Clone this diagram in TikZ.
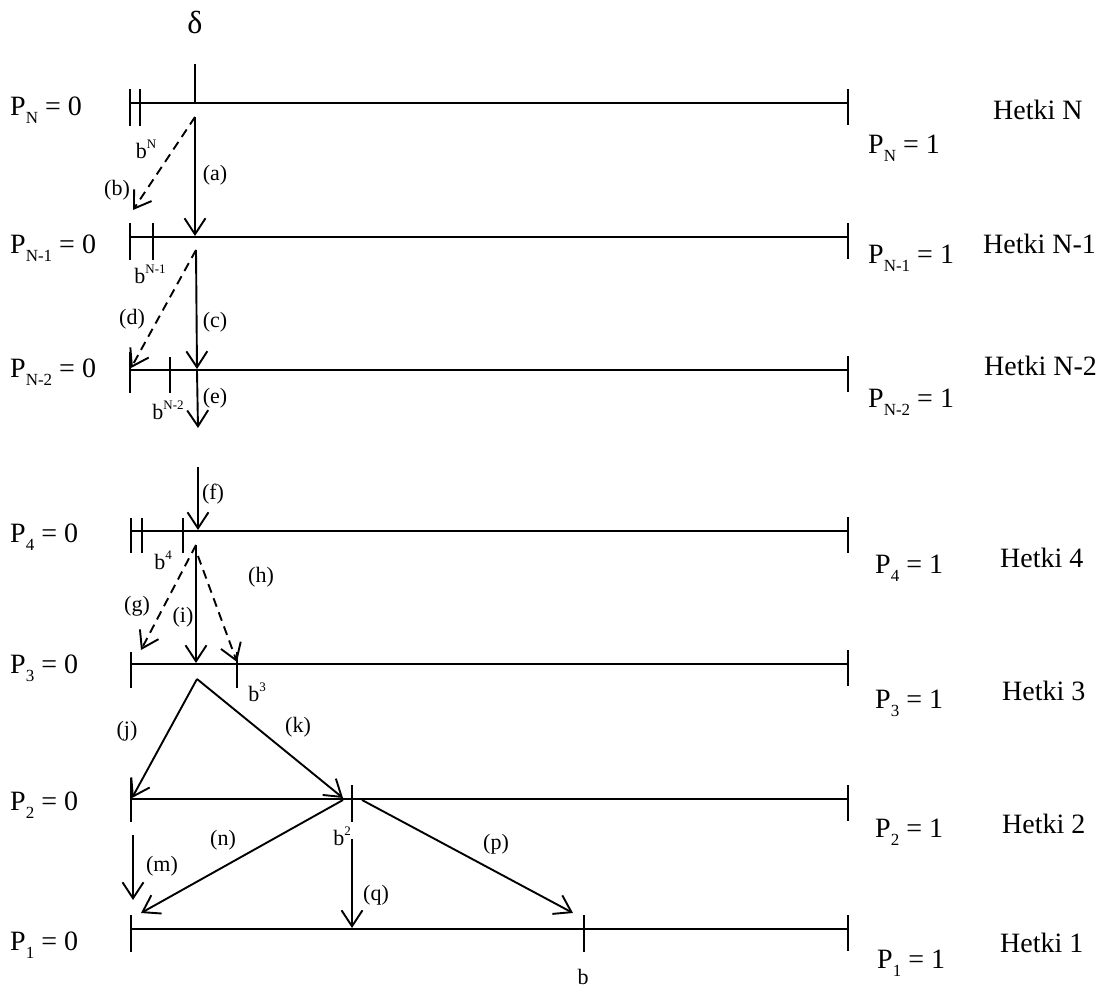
\documentclass[tikz,border=0pt]{standalone}
\usepackage{fontspec}
\setmainfont{Liberation Serif}
\usetikzlibrary{arrows.meta}
\newcommand\psub[1]{\raisebox{-0.3em}{\fontsize{17}{17}\selectfont #1}}
\newcommand\bsup[1]{\raisebox{0.45em}{\fontsize{13}{13}\selectfont #1}}
\begin{document}
\begin{tikzpicture}[x=1pt,y=-1pt,
  axisline/.style={line width=1.9pt},
  tickmark/.style={line width=1.9pt},
  arr/.style={line width=1.9pt,-{Straight Barb[length=16pt,width=21pt]}},
  darr/.style={arr,dash pattern=on 9pt off 6pt},
  big/.style={font=\fontsize{28}{32}\selectfont,inner sep=0pt},
  lbl/.style={font=\fontsize{22}{25}\selectfont,inner sep=0pt}]
\useasboundingbox (0,0) rectangle (1103,990);

% level lines and right-end ticks
\foreach \y/\n in {103/N,237/Na,370/Nb,531/F,664/T,799/S,929/O} {
  \coordinate (l\n) at (130,\y);
  \coordinate (r\n) at (848,\y);
  \draw[axisline] (l\n) -- (r\n);
  \draw[tickmark] (848,\y-14) -- (848,\y+22);
}

% left ticks
\draw[tickmark] (130,89) -- (130,126);
\draw[tickmark] (140,89) -- (140,126);
\draw[tickmark] (195,64) -- (195,103);
\draw[tickmark] (130,223) -- (130,260);
\draw[tickmark] (153,223) -- (153,260);
\draw[tickmark] (130,352) -- (130,393);
\draw[tickmark] (170,357) -- (170,393);
\draw[tickmark] (131,518) -- (131,553);
\draw[tickmark] (142,518) -- (142,553);
\draw[tickmark] (183,518) -- (183,553);
\draw[tickmark] (131,652) -- (131,688);
\draw[tickmark] (237,652) -- (237,688);
\draw[tickmark] (131,778) -- (131,822);
\draw[tickmark] (352,785) -- (352,822);
\draw[tickmark] (131,915) -- (131,952);
\draw[tickmark] (584,915) -- (584,952);

% connector end points
\coordinate (sN) at (195,117);
\coordinate (tA) at (195,236);
\coordinate (tB) at (133,210);
\coordinate (sNa) at (196,250);
\coordinate (tC) at (197,369);
\coordinate (tD) at (131,368);
\coordinate (sNb) at (197,371);
\coordinate (tE) at (198,428);
\coordinate (sF) at (198,467);
\coordinate (tF) at (198,530);
\coordinate (s4) at (196,545);
\coordinate (s4h) at (198,556);
\coordinate (tG) at (141,650);
\coordinate (tI) at (196,663);
\coordinate (tH) at (237,662);
\coordinate (s3) at (197,679);
\coordinate (tJ) at (132,798);
\coordinate (tK) at (343,798);
\coordinate (s2) at (343,800);
\coordinate (s2p) at (362,800);
\coordinate (sM) at (133,835);
\coordinate (tM) at (133,900);
\coordinate (tN) at (141,913);
\coordinate (sQ) at (352,839);
\coordinate (tQ) at (352,928);
\coordinate (tP) at (573,913);

\draw[arr] (sN) -- (tA);
\draw[darr] (sN) -- (tB);
\draw[arr] (sNa) -- (tC);
\draw[darr] (sNa) -- (tD);
\draw[arr] (sNb) -- (tE);
\draw[arr] (sF) -- (tF);
\draw[arr] (s4) -- (tI);
\draw[darr] (s4) -- (tG);
\draw[darr] (s4h) -- (tH);
\draw[arr] (s3) -- (tJ);
\draw[arr] (s3) -- (tK);
\draw[arr] (sM) -- (tM);
\draw[arr] (s2) -- (tN);
\draw[arr] (sQ) -- (tQ);
\draw[arr] (s2p) -- (tP);

% delta
\node[inner sep=0pt,font=\fontsize{32}{36}\selectfont] (delta) at (195,22) {δ};

% left labels
\node[big,anchor=base west] (pN0) at (10,115) {P\psub{N} = 0};
\node[big,anchor=base west] (pNa0) at (10,253) {P\psub{N-1} = 0};
\node[big,anchor=base west] (pNb0) at (10,377) {P\psub{N-2} = 0};
\node[big,anchor=base west] (p40) at (10,542) {P\psub{4} = 0};
\node[big,anchor=base west] (p30) at (10,673) {P\psub{3} = 0};
\node[big,anchor=base west] (p20) at (10,810) {P\psub{2} = 0};
\node[big,anchor=base west] (p10) at (10,950) {P\psub{1} = 0};

% right labels
\node[big,anchor=base west] (pN1) at (868,153) {P\psub{N} = 1};
\node[big,anchor=base west] (pNa1) at (868,263) {P\psub{N-1} = 1};
\node[big,anchor=base west] (pNb1) at (868,407) {P\psub{N-2} = 1};
\node[big,anchor=base west] (p41) at (875,573) {P\psub{4} = 1};
\node[big,anchor=base west] (p31) at (875,708) {P\psub{3} = 1};
\node[big,anchor=base west] (p21) at (875,837) {P\psub{2} = 1};
\node[big,anchor=base west] (p11) at (877,968) {P\psub{1} = 1};

\node[big,anchor=base west] (hN) at (993,119) {Hetki N};
\node[big,anchor=base west] (hNa) at (983,253) {Hetki N-1};
\node[big,anchor=base west] (hNb) at (984,375) {Hetki N-2};
\node[big,anchor=base west] (h4) at (1000,567) {Hetki 4};
\node[big,anchor=base west] (h3) at (1002,700) {Hetki 3};
\node[big,anchor=base west] (h2) at (1002,833) {Hetki 2};
\node[big,anchor=base west] (h1) at (1000,952) {Hetki 1};

% arrow labels
\node[lbl] (la) at (215,175) {(a)};
\node[lbl] (lb) at (117,190) {(b)};
\node[lbl] (lc) at (215,322) {(c)};
\node[lbl] (ld) at (132,319) {(d)};
\node[lbl] (le) at (215,398) {(e)};
\node[lbl] (lf) at (213,494) {(f)};
\node[lbl] (lg) at (137,606) {(g)};
\node[lbl] (lh) at (261,577) {(h)};
\node[lbl] (li) at (183,617) {(i)};
\node[lbl] (lj) at (127,731) {(j)};
\node[lbl] (lk) at (298,727) {(k)};
\node[lbl] (lm) at (162,866) {(m)};
\node[lbl] (ln) at (223,840) {(n)};
\node[lbl] (lp) at (496,844) {(p)};
\node[lbl] (lq) at (376,895) {(q)};

% b labels
\node[lbl] (bN) at (146,149) {b\bsup{N}};
\node[lbl] (bNa) at (150,274) {b\bsup{N-1}};
\node[lbl] (bNb) at (168,410) {b\bsup{N-2}};
\node[lbl] (b4) at (163,560) {b\bsup{4}};
\node[lbl] (b3) at (257,692) {b\bsup{3}};
\node[lbl] (b2) at (342,836) {b\bsup{2}};
\node[lbl,anchor=base] (b1) at (583,984) {b};
\end{tikzpicture}
\end{document}
